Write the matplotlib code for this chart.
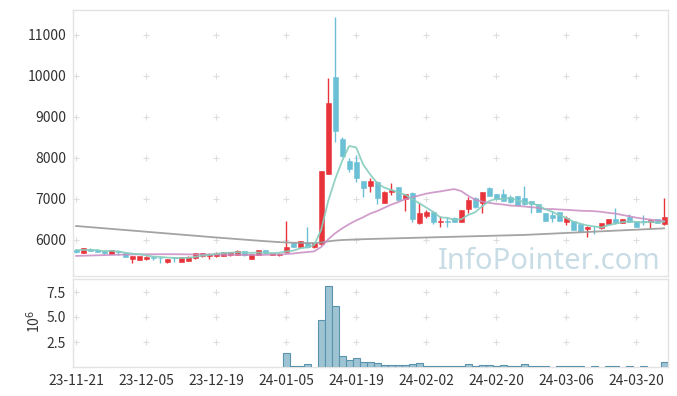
import numpy as np
import matplotlib
matplotlib.use("Agg")
import matplotlib.pyplot as plt

plt.rcParams['font.family'] = ['Noto Sans CJK KR', 'DejaVu Sans']

tick_labels = ['23-11-21', '23-12-05', '23-12-19', '24-01-05', '24-01-19',
               '24-02-02', '24-02-20', '24-03-06', '24-03-20']

opens = [5744, 5670, 5775, 5745, 5728, 5646, 5728, 5662, 5516, 5500,
         5516, 5570, 5555, 5443, 5570, 5451, 5484, 5550, 5590, 5590,
         5590, 5606, 5614, 5630, 5711, 5530, 5630, 5736, 5632, 5614,
         5690, 5907, 5825, 5907, 5809, 5880, 7600, 9970, 8452, 7923,
         7891, 7427, 7314, 7411, 6899, 7167, 7274, 6988, 7143, 6395,
         6573, 6678, 6425, 6445, 6532, 6434, 6737, 7020, 6883, 7260,
         7110, 7110, 7044, 7061, 7005, 6939, 6858, 6639, 6598, 6663,
         6435, 6451, 6370, 6248, 6335, 6273, 6378, 6500, 6411, 6557,
         6451, 6459, 6419, 6500, 6370]
highs = [5760, 5795, 5790, 5780, 5735, 5750, 5740, 5670, 5605, 5600,
         5600, 5597, 5581, 5525, 5581, 5570, 5590, 5670, 5670, 5660,
         5690, 5700, 5705, 5740, 5720, 5655, 5745, 5745, 5680, 5665,
         6450, 5920, 5975, 6313, 5915, 7680, 9950, 11420, 8510, 7980,
         8054, 7440, 7493, 7420, 7175, 7371, 7280, 7120, 7150, 6883,
         6710, 6685, 6573, 6540, 6545, 6730, 7044, 7030, 7160, 7270,
         7120, 7225, 7080, 7070, 7300, 6950, 6870, 6650, 6695, 6670,
         6581, 6460, 6380, 6320, 6340, 6400, 6510, 6777, 6510, 6614,
         6460, 6595, 6485, 6510, 7005]
lows = [5670, 5660, 5720, 5700, 5655, 5640, 5625, 5575, 5419, 5495,
        5500, 5500, 5435, 5430, 5460, 5445, 5475, 5525, 5580, 5535,
        5580, 5600, 5605, 5625, 5605, 5520, 5625, 5670, 5625, 5610,
        5680, 5815, 5815, 5800, 5800, 5870, 7590, 8390, 8020, 7647,
        7403, 7030, 7151, 6860, 6890, 7086, 6955, 6703, 6434, 6390,
        6517, 6378, 6298, 6300, 6425, 6425, 6640, 6770, 6654, 7055,
        6964, 6940, 6900, 6830, 6850, 6639, 6670, 6450, 6435, 6440,
        6354, 6225, 6200, 6069, 6127, 6265, 6370, 6390, 6400, 6430,
        6305, 6354, 6273, 6400, 6360]
closes = [5690, 5784, 5730, 5705, 5662, 5744, 5700, 5581, 5597, 5597,
          5581, 5560, 5545, 5516, 5560, 5565, 5581, 5662, 5662, 5655,
          5679, 5695, 5695, 5720, 5614, 5646, 5736, 5679, 5671, 5655,
          5809, 5825, 5964, 5809, 5907, 7670, 9320, 8655, 8045, 7720,
          7493, 7249, 7427, 7005, 7167, 7208, 6964, 7110, 6500, 6655,
          6680, 6434, 6445, 6430, 6434, 6720, 6964, 6786, 7152, 7065,
          7000, 6947, 6922, 6842, 6860, 6866, 6679, 6459, 6532, 6451,
          6516, 6232, 6207, 6313, 6325, 6395, 6500, 6395, 6500, 6435,
          6313, 6435, 6476, 6411, 6557]
# volume in millions
volumes = [0] * 30 + [
    1.38, 0.10, 0.10, 0.30, 0.0, 4.70, 8.10, 6.10, 1.10, 0.70,
    0.90, 0.50, 0.50, 0.37, 0.17, 0.17, 0.17, 0.17, 0.28, 0.40,
    0.08, 0.08, 0.08, 0.08, 0.08, 0.08, 0.35, 0.08, 0.25, 0.25,
    0.08, 0.18, 0.08, 0.08, 0.30, 0.08, 0.08, 0.08, 0.0, 0.06,
    0.06, 0.06, 0.06, 0.0, 0.06, 0.0, 0.06, 0.06, 0.0, 0.06,
    0.0, 0.06, 0.0, 0.0, 0.47]
ma5 = [5744, 5745, 5745, 5742, 5714, 5725, 5708, 5678, 5657, 5644,
       5611, 5583, 5576, 5560, 5552, 5549, 5553, 5577, 5606, 5625,
       5648, 5671, 5677, 5689, 5681, 5674, 5682, 5679, 5669, 5677,
       5710, 5728, 5785, 5812, 5863, 6235, 6934, 7472, 7919, 8282,
       8247, 7832, 7587, 7379, 7268, 7211, 7154, 7091, 6990, 6887,
       6782, 6676, 6543, 6529, 6485, 6493, 6599, 6667, 6811, 6937,
       6993, 6990, 7017, 6955, 6914, 6887, 6834, 6741, 6679, 6597,
       6527, 6438, 6388, 6344, 6319, 6294, 6348, 6386, 6423, 6445,
       6429, 6416, 6432, 6414, 6438]
ma20 = [5600, 5605, 5610, 5615, 5620, 5624, 5628, 5632, 5635, 5638,
        5640, 5641, 5642, 5642, 5641, 5640, 5638, 5636, 5635, 5634,
        5633, 5629, 5627, 5628, 5625, 5621, 5622, 5627, 5631, 5634,
        5645, 5658, 5679, 5694, 5711, 5817, 6004, 6153, 6272, 6376,
        6466, 6544, 6631, 6695, 6773, 6851, 6912, 6984, 7025, 7075,
        7119, 7149, 7173, 7204, 7231, 7183, 7065, 6972, 6927, 6894,
        6870, 6855, 6829, 6821, 6806, 6789, 6775, 6742, 6744, 6733,
        6725, 6715, 6703, 6697, 6692, 6676, 6652, 6633, 6600, 6569,
        6534, 6509, 6487, 6465, 6450]
ma_long = [6330, 6316, 6302, 6288, 6274, 6260, 6246, 6232, 6218, 6204,
           6190, 6176, 6162, 6148, 6134, 6120, 6106, 6092, 6078, 6064,
           6050, 6037, 6024, 6011, 5998, 5985, 5972, 5960, 5948, 5937,
           5927, 5922, 5918, 5915, 5913, 5928, 5955, 5975, 5988, 5995,
           6002, 6008, 6013, 6018, 6022, 6027, 6031, 6036, 6040, 6045,
           6049, 6054, 6058, 6063, 6067, 6072, 6076, 6081, 6085, 6090,
           6094, 6099, 6103, 6108, 6112, 6120, 6128, 6136, 6144, 6152,
           6160, 6168, 6176, 6184, 6192, 6200, 6208, 6216, 6224, 6232,
           6240, 6248, 6256, 6264, 6272]

n = len(closes)
x = np.arange(n)
W, H = 677, 396
fig = plt.figure(figsize=(W / 100, H / 100), dpi=100)
ax = fig.add_axes([73 / W, 1 - 276 / H, (668 - 73) / W, (276 - 10) / H])
axv = fig.add_axes([73 / W, 1 - 367 / H, (668 - 73) / W, (367 - 279) / H])

RED = '#e8333a'
BLUE = '#6cc0d6'
for a in (ax, axv):
    for sp in a.spines.values():
        sp.set_color('#e3e3e3')
        sp.set_linewidth(1.0)
    a.set_xlim(-0.45, n - 0.45)
    a.tick_params(length=0, colors='#333333', labelsize=10)

o = np.array(opens, float); c = np.array(closes, float)
hi = np.array(highs, float); lo = np.array(lows, float)
up = c >= o
cols = np.where(up, RED, BLUE)
ax.vlines(x, lo, hi, colors=cols, linewidth=1.0, zorder=2)
body_bottom = np.minimum(o, c)
body_h = np.maximum(np.abs(c - o), 12)
ax.bar(x, body_h, bottom=body_bottom, width=0.72, color=cols,
       edgecolor=cols, linewidth=0.4, zorder=3)

ax.plot(x, ma_long, color='#9a9a9a', lw=1.3, zorder=4, alpha=0.9)
ax.plot(x, ma20, color='#c98dc2', lw=1.3, zorder=4, alpha=0.85)
ax.plot(x, ma5, color='#86cdbf', lw=1.3, zorder=4, alpha=0.9)

ax.set_ylim(5110, 11600)
yt = [6000, 7000, 8000, 9000, 10000, 11000]
ax.set_yticks(yt)
ax.set_yticklabels([str(v) for v in yt])
ax.set_xticks([])
ax.tick_params(axis='y', pad=5)

tick_pos = np.arange(0, n, 10)[:len(tick_labels)]
gx, gy = np.meshgrid(tick_pos, yt)
ax.plot(gx.ravel(), gy.ravel(), ls='none', marker='+', ms=5, mew=0.8,
        color='#dedede', zorder=1, clip_on=False)

ax.text(0.987, 0.025, 'InfoPointer.com', transform=ax.transAxes, ha='right',
        va='baseline', fontsize=21, color='#c8dce6', zorder=0,
        family=['Noto Sans', 'DejaVu Sans'])

vol = np.array(volumes, float) * 1e6
mask = vol > 0
axv.bar(x[mask], vol[mask], width=1.0, color='#9ec4d4', edgecolor='#5b93ad',
        linewidth=0.8, zorder=3)
axv.set_ylim(0, 8.8e6)
vt = [2.5e6, 5.0e6, 7.5e6]
axv.set_yticks(vt)
axv.set_yticklabels(['2.5', '5.0', '7.5'])
axv.tick_params(axis='y', pad=5)
axv.set_xticks(tick_pos)
axv.set_xticklabels(tick_labels)
axv.tick_params(axis='x', pad=5)
gx, gy = np.meshgrid(tick_pos, vt)
axv.plot(gx.ravel(), gy.ravel(), ls='none', marker='+', ms=5, mew=0.8,
         color='#dedede', zorder=1, clip_on=False)
fig.text(34 / W, 1 - 321 / H, '10$^6$', rotation=90, ha='center', va='center',
         fontsize=10, color='#333333')

fig.savefig('out.png', dpi=100)
